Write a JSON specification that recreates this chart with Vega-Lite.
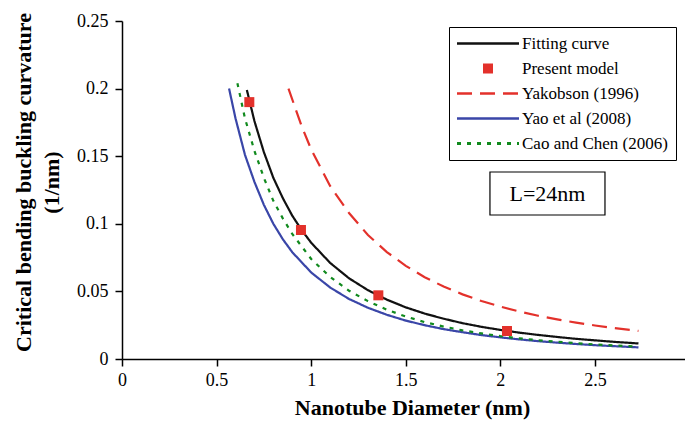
{
  "$schema": "https://vega.github.io/schema/vega-lite/v6.json",
  "width": 563,
  "height": 338,
  "autosize": {"type": "none"},
  "padding": {"left": 122, "top": 21, "right": 0, "bottom": 62},
  "config": {
    "view": {"stroke": null},
    "font": "Liberation Serif",
    "style": {"guide-label": {"font": "Liberation Serif"}, "guide-title": {"font": "Liberation Serif"}},
    "axis": {
      "grid": false,
      "domainColor": "#000000",
      "domainWidth": 1.5,
      "tickColor": "#000000",
      "tickWidth": 1.5,
      "tickSize": 7,
      "labelColor": "#000000",
      "labelFont": "Liberation Serif",
      "labelFontSize": 18,
      "titleColor": "#000000",
      "titleFont": "Liberation Serif",
      "titleFontSize": 22,
      "titleFontWeight": "bold"
    },
    "legend": {
      "labelFont": "Liberation Serif",
      "labelFontSize": 17,
      "labelColor": "#000000"
    }
  },
  "datasets": {
    "curves": [
      {"series": "Fitting curve", "d": 0.66, "k": 0.199},
      {"series": "Fitting curve", "d": 0.7, "k": 0.176},
      {"series": "Fitting curve", "d": 0.75, "k": 0.153},
      {"series": "Fitting curve", "d": 0.8, "k": 0.134},
      {"series": "Fitting curve", "d": 0.85, "k": 0.119},
      {"series": "Fitting curve", "d": 0.9, "k": 0.106},
      {"series": "Fitting curve", "d": 0.95, "k": 0.0953},
      {"series": "Fitting curve", "d": 1.0, "k": 0.086},
      {"series": "Fitting curve", "d": 1.1, "k": 0.0711},
      {"series": "Fitting curve", "d": 1.2, "k": 0.0597},
      {"series": "Fitting curve", "d": 1.3, "k": 0.0509},
      {"series": "Fitting curve", "d": 1.4, "k": 0.0439},
      {"series": "Fitting curve", "d": 1.5, "k": 0.0382},
      {"series": "Fitting curve", "d": 1.6, "k": 0.0336},
      {"series": "Fitting curve", "d": 1.7, "k": 0.0298},
      {"series": "Fitting curve", "d": 1.8, "k": 0.0265},
      {"series": "Fitting curve", "d": 1.9, "k": 0.0238},
      {"series": "Fitting curve", "d": 2.0, "k": 0.0215},
      {"series": "Fitting curve", "d": 2.1, "k": 0.0195},
      {"series": "Fitting curve", "d": 2.2, "k": 0.0178},
      {"series": "Fitting curve", "d": 2.3, "k": 0.0163},
      {"series": "Fitting curve", "d": 2.4, "k": 0.0149},
      {"series": "Fitting curve", "d": 2.5, "k": 0.0138},
      {"series": "Fitting curve", "d": 2.6, "k": 0.0127},
      {"series": "Fitting curve", "d": 2.73, "k": 0.0115},
      {"series": "Yakobson (1996)", "d": 0.88, "k": 0.2},
      {"series": "Yakobson (1996)", "d": 0.95, "k": 0.172},
      {"series": "Yakobson (1996)", "d": 1.0, "k": 0.155},
      {"series": "Yakobson (1996)", "d": 1.1, "k": 0.128},
      {"series": "Yakobson (1996)", "d": 1.2, "k": 0.108},
      {"series": "Yakobson (1996)", "d": 1.3, "k": 0.0917},
      {"series": "Yakobson (1996)", "d": 1.4, "k": 0.0791},
      {"series": "Yakobson (1996)", "d": 1.5, "k": 0.0689},
      {"series": "Yakobson (1996)", "d": 1.6, "k": 0.0605},
      {"series": "Yakobson (1996)", "d": 1.7, "k": 0.0536},
      {"series": "Yakobson (1996)", "d": 1.8, "k": 0.0478},
      {"series": "Yakobson (1996)", "d": 1.9, "k": 0.0429},
      {"series": "Yakobson (1996)", "d": 2.0, "k": 0.0388},
      {"series": "Yakobson (1996)", "d": 2.1, "k": 0.0351},
      {"series": "Yakobson (1996)", "d": 2.2, "k": 0.032},
      {"series": "Yakobson (1996)", "d": 2.3, "k": 0.0293},
      {"series": "Yakobson (1996)", "d": 2.4, "k": 0.0269},
      {"series": "Yakobson (1996)", "d": 2.5, "k": 0.0248},
      {"series": "Yakobson (1996)", "d": 2.6, "k": 0.0229},
      {"series": "Yakobson (1996)", "d": 2.73, "k": 0.0208},
      {"series": "Yao et al (2008)", "d": 0.566, "k": 0.2},
      {"series": "Yao et al (2008)", "d": 0.6, "k": 0.178},
      {"series": "Yao et al (2008)", "d": 0.65, "k": 0.151},
      {"series": "Yao et al (2008)", "d": 0.7, "k": 0.131},
      {"series": "Yao et al (2008)", "d": 0.75, "k": 0.114},
      {"series": "Yao et al (2008)", "d": 0.8, "k": 0.1},
      {"series": "Yao et al (2008)", "d": 0.85, "k": 0.0886},
      {"series": "Yao et al (2008)", "d": 0.9, "k": 0.079},
      {"series": "Yao et al (2008)", "d": 1.0, "k": 0.064},
      {"series": "Yao et al (2008)", "d": 1.1, "k": 0.0529},
      {"series": "Yao et al (2008)", "d": 1.2, "k": 0.0444},
      {"series": "Yao et al (2008)", "d": 1.3, "k": 0.0379},
      {"series": "Yao et al (2008)", "d": 1.4, "k": 0.0327},
      {"series": "Yao et al (2008)", "d": 1.5, "k": 0.0284},
      {"series": "Yao et al (2008)", "d": 1.6, "k": 0.025},
      {"series": "Yao et al (2008)", "d": 1.7, "k": 0.0221},
      {"series": "Yao et al (2008)", "d": 1.8, "k": 0.0198},
      {"series": "Yao et al (2008)", "d": 1.9, "k": 0.0177},
      {"series": "Yao et al (2008)", "d": 2.0, "k": 0.016},
      {"series": "Yao et al (2008)", "d": 2.1, "k": 0.0145},
      {"series": "Yao et al (2008)", "d": 2.2, "k": 0.0132},
      {"series": "Yao et al (2008)", "d": 2.3, "k": 0.0121},
      {"series": "Yao et al (2008)", "d": 2.4, "k": 0.0111},
      {"series": "Yao et al (2008)", "d": 2.5, "k": 0.0102},
      {"series": "Yao et al (2008)", "d": 2.6, "k": 0.0095},
      {"series": "Yao et al (2008)", "d": 2.73, "k": 0.0086},
      {"series": "Cao and Chen (2006)", "d": 0.61, "k": 0.204},
      {"series": "Cao and Chen (2006)", "d": 0.65, "k": 0.178},
      {"series": "Cao and Chen (2006)", "d": 0.7, "k": 0.154},
      {"series": "Cao and Chen (2006)", "d": 0.75, "k": 0.134},
      {"series": "Cao and Chen (2006)", "d": 0.8, "k": 0.117},
      {"series": "Cao and Chen (2006)", "d": 0.85, "k": 0.104},
      {"series": "Cao and Chen (2006)", "d": 0.9, "k": 0.0925},
      {"series": "Cao and Chen (2006)", "d": 1.0, "k": 0.074},
      {"series": "Cao and Chen (2006)", "d": 1.1, "k": 0.0607},
      {"series": "Cao and Chen (2006)", "d": 1.2, "k": 0.0505},
      {"series": "Cao and Chen (2006)", "d": 1.3, "k": 0.0428},
      {"series": "Cao and Chen (2006)", "d": 1.4, "k": 0.0365},
      {"series": "Cao and Chen (2006)", "d": 1.5, "k": 0.0314},
      {"series": "Cao and Chen (2006)", "d": 1.6, "k": 0.0273},
      {"series": "Cao and Chen (2006)", "d": 1.7, "k": 0.024},
      {"series": "Cao and Chen (2006)", "d": 1.8, "k": 0.0212},
      {"series": "Cao and Chen (2006)", "d": 1.9, "k": 0.0189},
      {"series": "Cao and Chen (2006)", "d": 2.0, "k": 0.0169},
      {"series": "Cao and Chen (2006)", "d": 2.1, "k": 0.0153},
      {"series": "Cao and Chen (2006)", "d": 2.2, "k": 0.0139},
      {"series": "Cao and Chen (2006)", "d": 2.3, "k": 0.0127},
      {"series": "Cao and Chen (2006)", "d": 2.4, "k": 0.0117},
      {"series": "Cao and Chen (2006)", "d": 2.5, "k": 0.0108},
      {"series": "Cao and Chen (2006)", "d": 2.6, "k": 0.01},
      {"series": "Cao and Chen (2006)", "d": 2.73, "k": 0.0092}
    ],
    "model": [
      {"series": "Present model", "d": 0.673, "k": 0.19},
      {"series": "Present model", "d": 0.946, "k": 0.0954},
      {"series": "Present model", "d": 1.355, "k": 0.0471},
      {"series": "Present model", "d": 2.035, "k": 0.0207}
    ],
    "note": [
      {"label": "L=24nm"}
    ]
  },
  "layer": [
    {
      "data": {"name": "curves"},
      "mark": {"type": "line"},
      "encoding": {
        "x": {
          "field": "d", "type": "quantitative",
          "scale": {"domain": [0, 2.976], "nice": false, "zero": false},
          "axis": {"values": [0, 0.5, 1, 1.5, 2, 2.5], "format": "~g", "title": "Nanotube Diameter (nm)", "labelFont": "Liberation Serif", "titleFont": "Liberation Serif", "labelPadding": 5, "titlePadding": 8, "titleX": 290, "labelFlush": false}
        },
        "y": {
          "field": "k", "type": "quantitative",
          "scale": {"domain": [0, 0.25], "nice": false},
          "axis": {"values": [0, 0.05, 0.1, 0.15, 0.2, 0.25], "format": "~g", "title": ["Critical bending buckling curvature", "(1/nm)"], "labelFont": "Liberation Serif", "titleFont": "Liberation Serif", "titleLineHeight": 28, "labelPadding": 7, "titlePadding": 13, "titleY": 161}
        },
        "color": {
          "field": "series", "type": "nominal",
          "scale": {
            "domain": ["Fitting curve", "Present model", "Yakobson (1996)", "Yao et al (2008)", "Cao and Chen (2006)"],
            "range": ["#111111", "#e3312b", "#e3312b", "#3a46a8", "#118a1e"]
          },
          "legend": {
            "title": null,
            "orient": "none",
            "legendX": 327,
            "legendY": 6,
            "padding": 8,
            "strokeColor": "#000000",
            "fillColor": "#ffffff",
            "symbolType": "stroke",
            "symbolSize": 3844,
            "symbolStrokeWidth": 2.5,
            "labelOffset": 4,
            "rowPadding": 7,
            "labelLimit": 300,
            "encode": {
              "symbols": {
                "update": {
                  "x": {"value": 31},
                  "shape": {"signal": "datum.value === 'Present model' ? 'square' : 'stroke'"},
                  "size": {"signal": "datum.value === 'Present model' ? 100 : 3844"},
                  "strokeDash": {"signal": "datum.value === 'Yakobson (1996)' ? [15, 8] : (datum.value === 'Cao and Chen (2006)' ? [4, 6] : [1, 0])"},
                  "fill": {"signal": "datum.value === 'Present model' ? '#e3312b' : 'transparent'"},
                  "strokeWidth": {"signal": "datum.value === 'Present model' ? 0 : (datum.value === 'Cao and Chen (2006)' ? 3 : 2.5)"}
                }
              },
              "labels": {
                "update": {
                  "x": {"value": 65}
                }
              }
            }
          }
        },
        "strokeDash": {
          "field": "series", "type": "nominal",
          "scale": {
            "domain": ["Fitting curve", "Yakobson (1996)", "Yao et al (2008)", "Cao and Chen (2006)"],
            "range": [[1, 0], [15, 8], [1, 0], [4, 6]]
          },
          "legend": null
        },
        "strokeWidth": {
          "field": "series", "type": "nominal",
          "scale": {
            "domain": ["Fitting curve", "Yakobson (1996)", "Yao et al (2008)", "Cao and Chen (2006)"],
            "range": [2.2, 2.2, 2.8, 3]
          },
          "legend": null
        }
      }
    },
    {
      "data": {"name": "model"},
      "mark": {"type": "square", "size": 100, "filled": true, "opacity": 1},
      "encoding": {
        "x": {"field": "d", "type": "quantitative"},
        "y": {"field": "k", "type": "quantitative"},
        "color": {"field": "series", "type": "nominal"}
      }
    },
    {
      "data": {"name": "note"},
      "mark": {"type": "rect", "fill": "#ffffff", "fillOpacity": 0, "stroke": "#000000", "strokeWidth": 1.2},
      "encoding": {
        "x": {"datum": 1.945, "type": "quantitative"},
        "x2": {"datum": 2.553},
        "y": {"datum": 0.1383, "type": "quantitative"},
        "y2": {"datum": 0.1065}
      }
    },
    {
      "data": {"name": "note"},
      "mark": {"type": "text", "font": "Liberation Serif", "fontSize": 22, "color": "#000000", "align": "center", "baseline": "middle"},
      "encoding": {
        "x": {"datum": 2.249, "type": "quantitative"},
        "y": {"datum": 0.1222, "type": "quantitative"},
        "text": {"field": "label", "type": "nominal"}
      }
    }
  ]
}
